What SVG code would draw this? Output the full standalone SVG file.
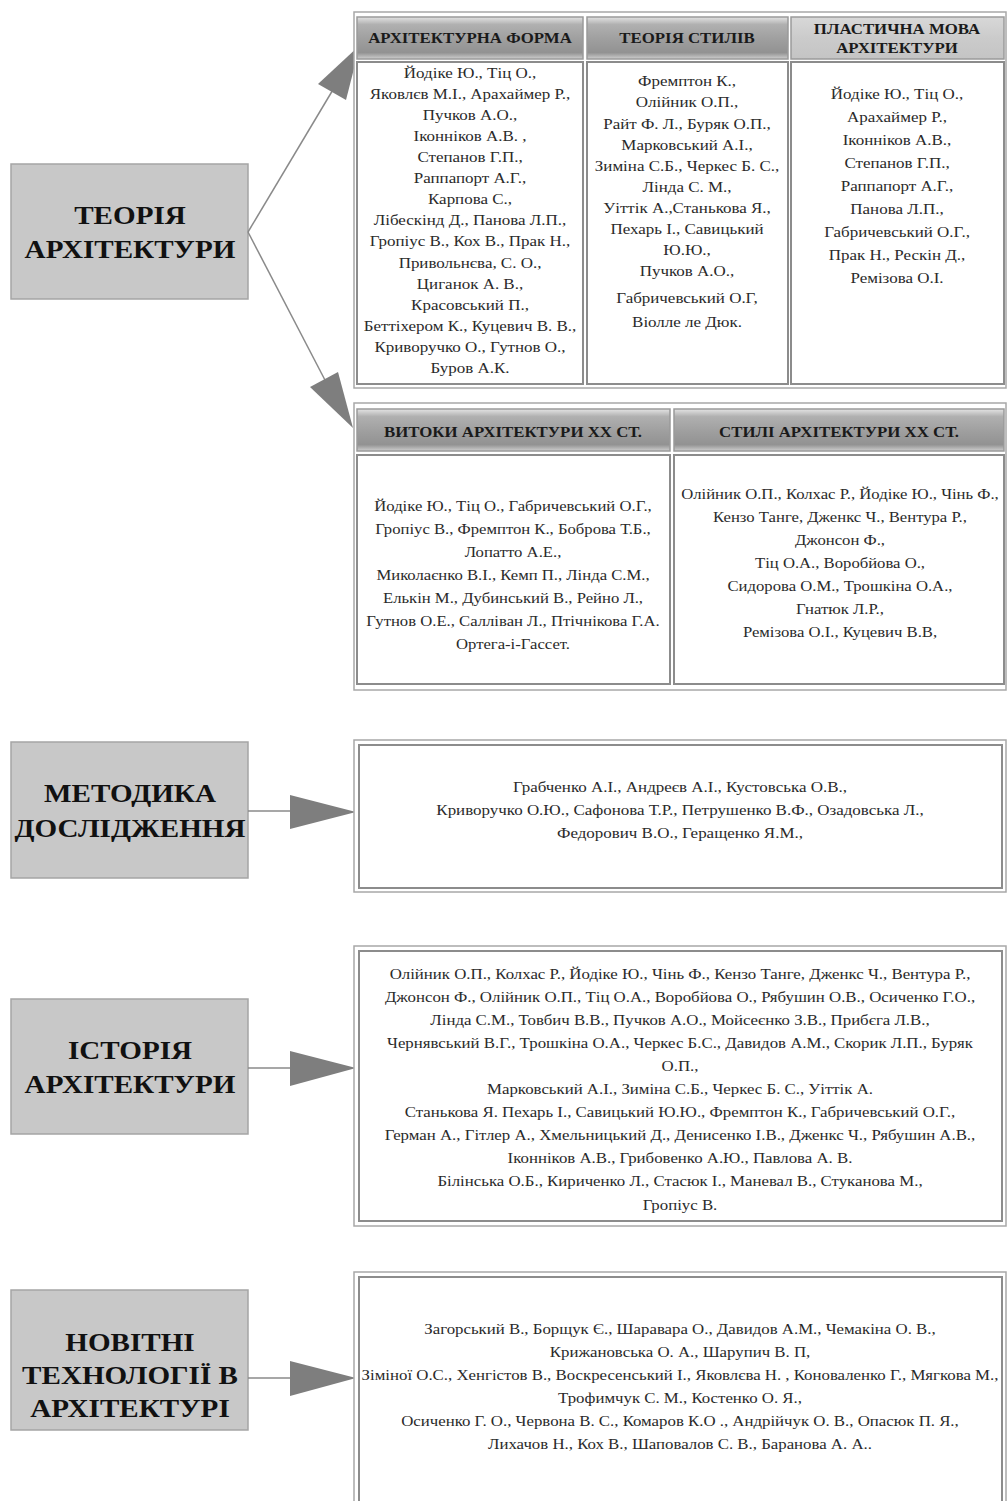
<svg xmlns="http://www.w3.org/2000/svg" width="1008" height="1501" viewBox="0 0 1008 1501">
  <defs>
    <linearGradient id="hdr" x1="0" y1="0" x2="0" y2="1">
      <stop offset="0" stop-color="#e4e4e4"/>
      <stop offset="0.18" stop-color="#b0b0b0"/>
      <stop offset="0.55" stop-color="#9e9e9e"/>
      <stop offset="0.85" stop-color="#929292"/>
      <stop offset="1" stop-color="#cfcfcf"/>
    </linearGradient>
    <linearGradient id="hdrLight" x1="0" y1="0" x2="0" y2="1">
      <stop offset="0" stop-color="#d8d8d8"/>
      <stop offset="0.5" stop-color="#cbcbcb"/>
      <stop offset="1" stop-color="#c4c4c4"/>
    </linearGradient>
    <style>
      .topic rect { fill: #c8c8c8; stroke: #a5a5a5; stroke-width: 1.5; }
      .topic text { font-family: "Liberation Serif", "Times New Roman", serif; font-weight: bold; font-size: 26px; fill: #111; text-anchor: middle; }
      .frame { fill: #fff; stroke: #a8a8a8; stroke-width: 1.5; }
      .cell { fill: #fff; stroke: #8c8c8c; stroke-width: 2; }
      .head { fill: url(#hdr); stroke: #9a9a9a; stroke-width: 1.5; }
      .headLight { fill: url(#hdrLight); stroke: #9a9a9a; stroke-width: 1.5; }
      .ht { font-family: "Liberation Serif", "Times New Roman", serif; font-weight: bold; font-size: 14.5px; fill: #1a1a1a; text-anchor: middle; }
      .bt { font-family: "Liberation Serif", "Times New Roman", serif; font-size: 14.5px; fill: #2a2a2a; text-anchor: middle; }
      .link { stroke: #8a8a8a; stroke-width: 1.5; fill: none; }
      .head-arrow { fill: #7e7e7e; stroke: none; }
    </style>
  </defs>

  <rect width="1008" height="1501" fill="#fff"/>

  <!-- topic nodes on the left (type is set slightly wide) -->
  <g id="theory" class="topic">
    <rect x="11" y="164" width="237" height="135"/>
    <g transform="translate(130 0) scale(1.12 1)">
      <text x="0" y="224">ТЕОРІЯ</text>
      <text x="0" y="258">АРХІТЕКТУРИ</text>
    </g>
  </g>
  <g id="method" class="topic">
    <rect x="11" y="742" width="237" height="136"/>
    <g transform="translate(130 0) scale(1.12 1)">
      <text x="0" y="802">МЕТОДИКА</text>
      <text x="0" y="837">ДОСЛІДЖЕННЯ</text>
    </g>
  </g>
  <g id="history" class="topic">
    <rect x="11" y="999" width="237" height="135"/>
    <g transform="translate(130 0) scale(1.12 1)">
      <text x="0" y="1059">ІСТОРІЯ</text>
      <text x="0" y="1093">АРХІТЕКТУРИ</text>
    </g>
  </g>
  <g id="tech" class="topic">
    <rect x="11" y="1290" width="237" height="140"/>
    <g transform="translate(130 0) scale(1.12 1)">
      <text x="0" y="1351">НОВІТНІ</text>
      <text x="0" y="1384">ТЕХНОЛОГІЇ В</text>
      <text x="0" y="1417">АРХІТЕКТУРІ</text>
    </g>
  </g>

  <!-- connectors -->
  <g id="connectors">
    <line class="link" x1="248" y1="232" x2="334" y2="88"/>
    <polygon class="head-arrow" points="360,45 346,100 318,84"/>
    <line class="link" x1="248" y1="232" x2="326" y2="382"/>
    <polygon class="head-arrow" points="353,428 338,372 310,387"/>
    <line class="link" x1="248" y1="811" x2="292" y2="811"/>
    <polygon class="head-arrow" points="290,795 356,812 290,829"/>
    <line class="link" x1="248" y1="1068" x2="292" y2="1068"/>
    <polygon class="head-arrow" points="290,1051 356,1068 290,1086"/>
    <line class="link" x1="248" y1="1378" x2="292" y2="1378"/>
    <polygon class="head-arrow" points="290,1361 356,1378 290,1396"/>
  </g>

  <!-- theory table: form, styles, plastic language -->
  <g id="theory-table">
    <rect class="frame" x="354" y="12" width="652" height="376"/>
    <rect class="head" x="357" y="17" width="226" height="42"/>
    <rect class="head" x="587" y="17" width="201" height="42"/>
    <rect class="headLight" x="791" y="17" width="213" height="42"/>
    <rect class="cell" x="357" y="62" width="226" height="322"/>
    <rect class="cell" x="587" y="62" width="201" height="322"/>
    <rect class="cell" x="791" y="62" width="213" height="322"/>
    <g class="ht" transform="translate(470 0) scale(1.16 1)">
      <text x="0" y="43">АРХІТЕКТУРНА ФОРМА</text>
    </g>
    <g class="ht" transform="translate(687 0) scale(1.16 1)">
      <text x="0" y="43">ТЕОРІЯ СТИЛІВ</text>
    </g>
    <g class="ht" transform="translate(897 0) scale(1.16 1)">
      <text x="0" y="34">ПЛАСТИЧНА МОВА</text>
      <text x="0" y="53">АРХІТЕКТУРИ</text>
    </g>

    <g class="bt" xml:space="preserve" transform="translate(470 0) scale(1.17 1)">
      <text x="0" y="78">Йодіке Ю., Тіц О.,</text>
      <text x="0" y="99">Яковлєв М.І., Арахаймер Р.,</text>
      <text x="0" y="120">Пучков А.О.,</text>
      <text x="0" y="141">Іконніков А.В. ,</text>
      <text x="0" y="162">Степанов Г.П.,</text>
      <text x="0" y="183">Раппапорт А.Г.,</text>
      <text x="0" y="204">Карпова С.,</text>
      <text x="0" y="225">Лібескінд Д., Панова Л.П.,</text>
      <text x="0" y="246">Гропіус  В., Кох В., Прак Н.,</text>
      <text x="0" y="268">Привольнєва, С. О.,</text>
      <text x="0" y="289">Циганок А. В.,</text>
      <text x="0" y="310">Красовський П.,</text>
      <text x="0" y="331">Беттіхером К., Куцевич В. В.,</text>
      <text x="0" y="352">Криворучко О., Гутнов О.,</text>
      <text x="0" y="373">Буров А.К.</text>
    </g>
    <g class="bt" xml:space="preserve" transform="translate(687 0) scale(1.17 1)">
      <text x="0" y="86">Фремптон К.,</text>
      <text x="0" y="107">Олійник О.П.,</text>
      <text x="0" y="129">Райт Ф. Л., Буряк О.П.,</text>
      <text x="0" y="150">Марковський А.І.,</text>
      <text x="0" y="171">Зиміна С.Б.,  Черкес Б. С.,</text>
      <text x="0" y="192">Лінда С. М.,</text>
      <text x="0" y="213">Уіттік А.,Станькова Я.,</text>
      <text x="0" y="234">Пехарь І., Савицький</text>
      <text x="0" y="255">Ю.Ю.,</text>
      <text x="0" y="276">Пучков А.О.,</text>
      <text x="0" y="303">Габричевський О.Г,</text>
      <text x="0" y="327">Віолле ле Дюк.</text>
    </g>
    <g class="bt" transform="translate(897 0) scale(1.17 1)">
      <text x="0" y="99">Йодіке Ю., Тіц О.,</text>
      <text x="0" y="122">Арахаймер Р.,</text>
      <text x="0" y="145">Іконніков А.В.,</text>
      <text x="0" y="168">Степанов Г.П.,</text>
      <text x="0" y="191">Раппапорт А.Г.,</text>
      <text x="0" y="214">Панова Л.П.,</text>
      <text x="0" y="237">Габричевський О.Г.,</text>
      <text x="0" y="260">Прак Н., Рескін Д.,</text>
      <text x="0" y="283">Ремізова О.І.</text>
    </g>
  </g>

  <!-- twentieth-century table: origins and styles -->
  <g id="xx-table">
    <rect class="frame" x="354" y="403" width="652" height="287"/>
    <rect class="head" x="357" y="409" width="313" height="42"/>
    <rect class="head" x="674" y="409" width="330" height="42"/>
    <rect class="cell" x="357" y="455" width="313" height="229"/>
    <rect class="cell" x="674" y="455" width="330" height="229"/>
    <g class="ht" transform="translate(513 0) scale(1.16 1)">
      <text x="0" y="437">ВИТОКИ АРХІТЕКТУРИ ХХ СТ.</text>
    </g>
    <g class="ht" transform="translate(839 0) scale(1.16 1)">
      <text x="0" y="437">СТИЛІ АРХІТЕКТУРИ ХХ СТ.</text>
    </g>
    <g class="bt" xml:space="preserve" transform="translate(513 0) scale(1.15 1)">
      <text x="0" y="511">Йодіке Ю., Тіц О.,  Габричевський О.Г.,</text>
      <text x="0" y="534">Гропіус  В., Фремптон К.,  Боброва Т.Б.,</text>
      <text x="0" y="557">Лопатто А.Е.,</text>
      <text x="0" y="580">Миколаєнко В.І., Кемп П.,   Лінда С.М.,</text>
      <text x="0" y="603">Елькін М., Дубинський В., Рейно Л.,</text>
      <text x="0" y="626">Гутнов О.Е., Салліван Л.,   Птічнікова Г.А.</text>
      <text x="0" y="649">Ортега-і-Гассет.</text>
    </g>
    <g class="bt" xml:space="preserve" transform="translate(840 0) scale(1.15 1)">
      <text x="0" y="499">Олійник О.П., Колхас Р., Йодіке Ю.,  Чінь Ф.,</text>
      <text x="0" y="522">Кензо Танге, Дженкс Ч., Вентура Р.,</text>
      <text x="0" y="545">Джонсон Ф.,</text>
      <text x="0" y="568">Тіц О.А., Воробйова О.,</text>
      <text x="0" y="591">Сидорова  О.М., Трошкіна О.А.,</text>
      <text x="0" y="614">Гнатюк Л.Р.,</text>
      <text x="0" y="637">Ремізова О.І., Куцевич В.В,</text>
    </g>
  </g>

  <!-- research methods list -->
  <g id="method-list">
    <rect class="frame" x="354" y="740" width="652" height="152"/>
    <rect class="cell" x="359" y="745" width="643" height="143"/>
    <g class="bt" transform="translate(680 0) scale(1.17 1)">
      <text x="0" y="792">Грабченко А.І., Андреєв А.І., Кустовська О.В.,</text>
      <text x="0" y="815">Криворучко О.Ю., Сафонова Т.Р., Петрушенко В.Ф., Озадовська Л.,</text>
      <text x="0" y="838">Федорович В.О., Геращенко Я.М.,</text>
    </g>
  </g>

  <!-- history list -->
  <g id="history-list">
    <rect class="frame" x="354" y="946" width="652" height="280"/>
    <rect class="cell" x="359" y="951" width="643" height="270"/>
    <g class="bt" xml:space="preserve" transform="translate(680 0) scale(1.16 1)">
      <text x="0" y="979">Олійник О.П., Колхас Р., Йодіке Ю.,  Чінь Ф., Кензо Танге, Дженкс Ч., Вентура Р.,</text>
      <text x="0" y="1002">Джонсон Ф., Олійник О.П., Тіц О.А., Воробйова О., Рябушин О.В., Осиченко Г.О.,</text>
      <text x="0" y="1025">Лінда С.М., Товбич В.В., Пучков А.О., Мойсеєнко З.В., Прибєга Л.В.,</text>
      <text x="0" y="1048">Чернявський В.Г., Трошкіна О.А., Черкес Б.С., Давидов А.М., Скорик Л.П., Буряк</text>
      <text x="0" y="1071">О.П.,</text>
      <text x="0" y="1094">Марковський А.І., Зиміна С.Б.,  Черкес Б. С., Уіттік А.</text>
      <text x="0" y="1117">Станькова Я. Пехарь І., Савицький Ю.Ю., Фремптон К.,  Габричевський О.Г.,</text>
      <text x="0" y="1140">Герман А.,  Гітлер А., Хмельницький Д., Денисенко І.В., Дженкс Ч.,  Рябушин А.В.,</text>
      <text x="0" y="1163">Іконніков А.В., Грибовенко А.Ю., Павлова А. В.</text>
      <text x="0" y="1186">Білінська О.Б.,  Кириченко Л.,  Стасюк І., Маневал В., Стуканова М.,</text>
      <text x="0" y="1210">Гропіус В.</text>
    </g>
  </g>

  <!-- new technologies list -->
  <g id="tech-list">
    <rect class="frame" x="354" y="1272" width="652" height="240"/>
    <rect class="cell" x="359" y="1277" width="643" height="240"/>
    <g class="bt" xml:space="preserve" transform="translate(680 0) scale(1.16 1)">
      <text x="0" y="1334">Загорський В., Борщук Є., Шараварa О., Давидов А.М., Чемакіна О. В.,</text>
      <text x="0" y="1357">Крижановська О. А., Шарупич В. П,</text>
      <text x="0" y="1380">Зіміної О.С., Хенгістов В., Воскресенський І., Яковлєва Н. , Коноваленко Г.,  Мягкова М.,</text>
      <text x="0" y="1403">Трофимчук С. М., Костенко О. Я.,</text>
      <text x="0" y="1426">Осиченко Г. О.,  Червона В. С., Комаров К.О ., Андрійчук О. В., Опасюк П. Я.,</text>
      <text x="0" y="1449">Лихачов Н., Кох В., Шаповалов С. В., Баранова А. А..</text>
    </g>
  </g>
</svg>
